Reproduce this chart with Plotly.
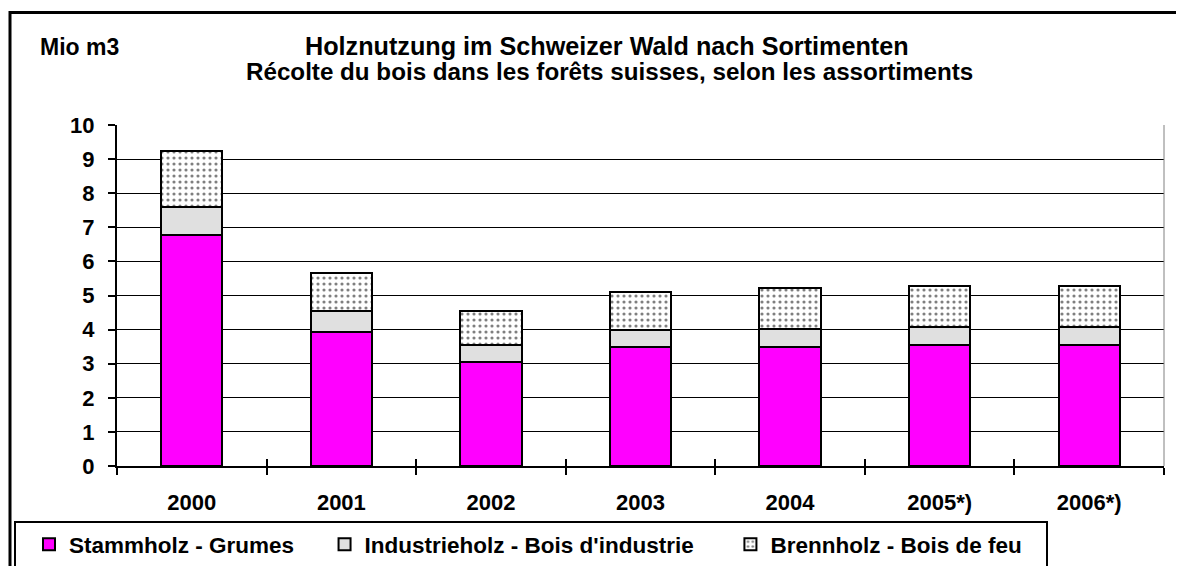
import plotly.graph_objects as go

years = ["2000", "2001", "2002", "2003", "2004", "2005*)", "2006*)"]
stammholz = [6.77, 3.92, 3.04, 3.48, 3.48, 3.54, 3.54]
industrieholz = [0.83, 0.62, 0.50, 0.50, 0.55, 0.55, 0.55]
brennholz = [1.64, 1.13, 1.01, 1.12, 1.19, 1.20, 1.20]
y_ticks = list(range(0, 11))

names = ["Stammholz - Grumes", "Industrieholz - Bois d'industrie", "Brennholz - Bois de feu"]
title1 = "Holznutzung im Schweizer Wald nach Sortimenten"
title2 = "Récolte du bois dans les forêts suisses, selon les assortiments"
unit = "Mio m3"

FONT = "Liberation Sans"
OFF = 8                      # page body margin
W, H = 1184 - OFF, 566 - OFF
# plot area in screen pixels
PL, PR, PT, PB = 117, 1164, 125, 466
L, R, T, B = PL - OFF, W - (PR - OFF), PT - OFF, H - (PB - OFF)
pw, ph = W - L - R, H - T - B

def px_x(x):
    return (x - PL) / pw

def px_y(y):
    return (PB - y) / ph

NB = "\u00a0"
line = dict(color="black", width=2)
fig = go.Figure()
fig.add_trace(go.Bar(x=years, y=stammholz, name=names[0] + NB * 2,
                     marker=dict(color="#FF00FF", line=line)))
fig.add_trace(go.Bar(x=years, y=industrieholz, name=names[1] + NB * 3,
                     marker=dict(color="#E0E0E0", line=line)))
fig.add_trace(go.Bar(x=years, y=brennholz, name=names[2] + NB * 3,
                     marker=dict(color="white", line=line,
                                 pattern=dict(shape=".", fgcolor="black", bgcolor="white",
                                              size=6, solidity=0.22))))
# invisible helper trace to draw the upper half of the crossing category ticks
fig.add_trace(go.Scatter(x=years, y=stammholz, xaxis="x2", mode="markers",
                         marker=dict(opacity=0, size=1), showlegend=False, hoverinfo="skip"))

fig.update_layout(
    width=W, height=H,
    barmode="stack", bargap=0.59,
    plot_bgcolor="white", paper_bgcolor="white",
    margin=dict(l=L, r=R, t=T, b=B, autoexpand=False),
    font=dict(family=FONT, color="black", size=22),
    xaxis=dict(type="category", categoryarray=years, tickson="boundaries",
               ticks="outside", ticklen=7, tickwidth=2, tickcolor="black",
               showline=True, linecolor="black", linewidth=2, showgrid=False,
               tickfont=dict(family=FONT, size=22, weight="bold"), ticklabelstandoff=16),
    xaxis2=dict(type="category", categoryarray=years, matches="x", overlaying="x",
                tickson="boundaries", ticks="inside", ticklen=7, tickwidth=2, tickcolor="black",
                showticklabels=False, showgrid=False, showline=False),
    yaxis=dict(range=[0, 10], tickvals=y_ticks, ticks="outside", ticklen=7, tickwidth=2,
               tickcolor="black", showline=True, linecolor="black", linewidth=2,
               showgrid=True, gridcolor="black", gridwidth=1, zeroline=False,
               tickfont=dict(family=FONT, size=22, weight="bold"), ticklabelstandoff=9),
    legend=dict(orientation="h", x=px_x(14), xanchor="left", y=px_y(521), yanchor="top",
                bordercolor="black", borderwidth=2, bgcolor="white", indentation=13,
                font=dict(family=FONT, size=22.5, weight="bold"), traceorder="normal"),
    showlegend=True,
    annotations=[
        dict(text=title1, xref="paper", yref="paper", x=px_x(607), y=px_y(46),
             xanchor="center", yanchor="middle", showarrow=False,
             font=dict(family=FONT, size=25.2, weight="bold")),
        dict(text=title2, xref="paper", yref="paper", x=px_x(609), y=px_y(72),
             xanchor="center", yanchor="middle", showarrow=False,
             font=dict(family=FONT, size=24.2, weight="bold")),
        dict(text=unit, xref="paper", yref="paper", x=px_x(38), y=px_y(47),
             xanchor="left", yanchor="middle", showarrow=False,
             font=dict(family=FONT, size=23, weight="bold")),
    ],
    shapes=[
        # outer chart border
        dict(type="rect", xref="paper", yref="paper", x0=px_x(10), x1=px_x(1300),
             y0=px_y(700), y1=px_y(12.5), line=dict(color="black", width=3), layer="below",
             fillcolor="rgba(0,0,0,0)"),
        # right plot border
        dict(type="line", xref="x domain", yref="y domain", x0=1, x1=1, y0=0, y1=1,
             line=dict(color="#808080", width=1)),
    ],
)

fig.write_html("out.html")
